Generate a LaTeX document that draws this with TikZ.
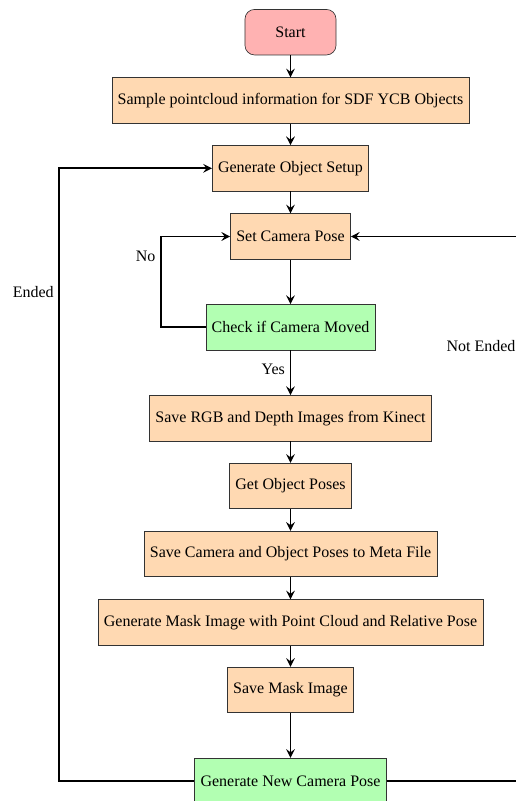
\documentclass[tikz,border=0pt]{standalone}
\usepackage{fontspec}
\setmainfont{Liberation Serif}
\usetikzlibrary{arrows.meta}
\tikzset{
  base/.style={draw=black!80, minimum height=28.45pt, inner sep=3.6pt, align=center},
  startbox/.style={base, rounded corners=6pt, fill=red!30, minimum width=56.9pt},
  procbox/.style={base, fill=orange!30},
  checkbox/.style={base, fill=green!30},
  conn/.style={line width=1.05pt, -{Stealth[length=5.5pt,width=5.5pt,inset=2pt]}},
  lbl/.style={inner sep=3.3pt}
}
\begin{document}
\begin{tikzpicture}[x=0.625pt,y=-0.625pt]
\useasboundingbox (0,0) rectangle (515,801);
\node[startbox] (start) at (290.5,32.2) {Start};
\node[procbox] (sample) at (290.5,100.5) {Sample pointcloud information for SDF YCB Objects};
\node[procbox] (gos) at (290.5,168.3) {Generate Object Setup};
\node[procbox] (scp) at (290.5,236.5) {Set Camera Pose};
\node[checkbox] (check) at (290.5,327.2) {Check if Camera Moved};
\node[procbox] (rgb) at (290.5,418.2) {Save RGB and Depth Images from Kinect};
\node[procbox] (gop) at (290.5,486) {Get Object Poses};
\node[procbox] (meta) at (290.5,553.9) {Save Camera and Object Poses to Meta File};
\node[procbox] (mask) at (290.5,622.5) {Generate Mask Image with Point Cloud and Relative Pose};
\node[procbox] (savemask) at (290.5,690) {Save Mask Image};
\node[checkbox] (gncp) at (290.5,781) {Generate New Camera Pose};

\coordinate (nobot) at (161,327.2);
\coordinate (notop) at (161,236.5);
\coordinate (lbot) at (59.3,781);
\coordinate (ltop) at (59.3,168.3);
\coordinate (rbot) at (521,781);
\coordinate (rtop) at (521,236.5);

\draw[conn] (start) -- (sample);
\draw[conn] (sample) -- (gos);
\draw[conn] (gos) -- (scp);
\draw[conn] (scp) -- (check);
\draw[conn] (check) -- (rgb);
\draw[conn] (rgb) -- (gop);
\draw[conn] (gop) -- (meta);
\draw[conn] (meta) -- (mask);
\draw[conn] (mask) -- (savemask);
\draw[conn] (savemask) -- (gncp);

\draw[conn] (check.west) -- (nobot) -- (notop) -- (scp.west);
\draw[conn] (gncp.west) -- (lbot) -- (ltop) -- (gos.west);
\draw[conn] (gncp.east) -- (rbot) -- (rtop) -- (scp.east);

\node[lbl, anchor=east] (nolbl) at (161,256) {No};
\node[lbl, anchor=east] (yeslbl) at (290.5,369) {Yes};
\node[lbl, anchor=east] (endlbl) at (59.3,292) {Ended};
\node[lbl, anchor=east] (nelbl) at (521,346) {Not Ended};
\end{tikzpicture}
\end{document}
